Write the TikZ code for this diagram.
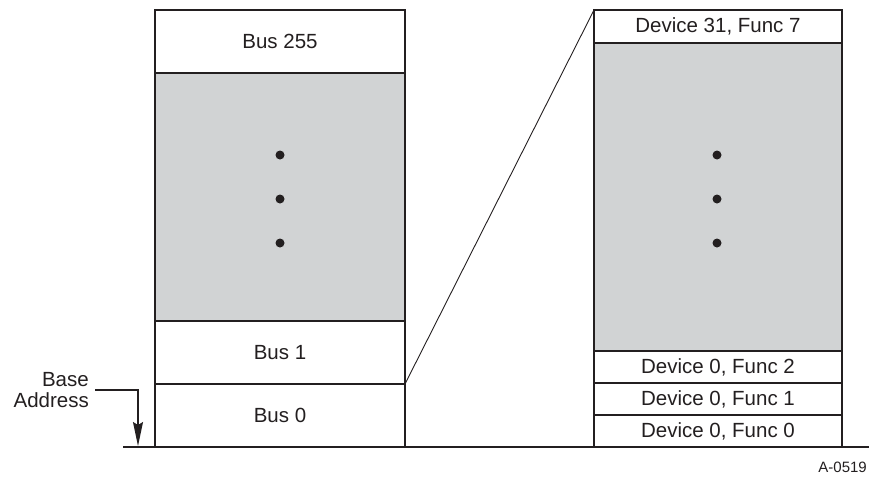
\documentclass[tikz,border=0pt]{standalone}
\usepackage{fontspec}
\setmainfont{Liberation Sans}
\usetikzlibrary{arrows.meta}
\definecolor{ink}{HTML}{231F20}
\definecolor{shade}{HTML}{D1D3D4}
\begin{document}
\begin{tikzpicture}[x=1pt,y=-1pt,
  cell/.style={draw=ink, line width=1.2pt, fill=white, anchor=north west,
    inner sep=0pt, outer sep=0pt, font=\fontsize{20.5}{20.5}\selectfont, text=ink},
  gap/.style={cell, fill=shade},
  dot/.style={circle, fill=ink, inner sep=0pt, minimum size=9pt}]
\useasboundingbox (0,0) rectangle (869,477);

% configuration space: one block per bus
\node[cell, minimum width=250pt, minimum height=63pt] (bus255) at (155,10) {Bus 255};
\node[gap, minimum width=250pt, minimum height=248pt] (busgap) at (155,73) {};
\node[cell, minimum width=250pt, minimum height=63pt] (bus1) at (155,321) {Bus 1};
\node[cell, minimum width=250pt, minimum height=63pt] (bus0) at (155,384) {Bus 0};

% one bus expanded into device/function blocks
\node[cell, minimum width=248pt, minimum height=33pt] (d31f7) at (594,10) {Device 31, Func 7};
\node[gap, minimum width=248pt, minimum height=308pt] (devgap) at (594,43) {};
\node[cell, minimum width=248pt, minimum height=32pt] (d0f2) at (594,351) {Device 0, Func 2};
\node[cell, minimum width=248pt, minimum height=32pt] (d0f1) at (594,383) {Device 0, Func 1};
\node[cell, minimum width=248pt, minimum height=32pt] (d0f0) at (594,415) {Device 0, Func 0};

% ellipsis dots
\node[dot] (la) at (280,155) {};
\node[dot] (lb) at (280,199) {};
\node[dot] (lc) at (280,243) {};
\node[dot] (ra) at (717,155) {};
\node[dot] (rb) at (717,199) {};
\node[dot] (rc) at (717,243) {};

% expansion line
\draw[ink, line width=0.9pt] (bus0.north east) -- (d31f7.north west);

% base line
\coordinate (axisL) at (123,447);
\coordinate (axisR) at (869,447);
\draw[ink, line width=2pt] (axisL) -- (axisR);

% base address label and pointer
\node[anchor=east, align=right, inner sep=0pt, text=ink,
  font=\fontsize{20.5}{20.7}\selectfont] (base) at (89,390) {Base\\Address};
\coordinate (bend) at (138,390);
\coordinate (tip) at (138,446);
\draw[ink, line width=1.2pt, -{Stealth[length=24pt,width=10pt,inset=3pt]}]
  (base.east) ++(6,0) coordinate (start) (start) -- (bend) -- (tip);

% figure tag
\node[anchor=east, inner sep=0pt, text=ink, font=\fontsize{15}{15}\selectfont] (tag) at (867,467) {A-0519};
\end{tikzpicture}
\end{document}
